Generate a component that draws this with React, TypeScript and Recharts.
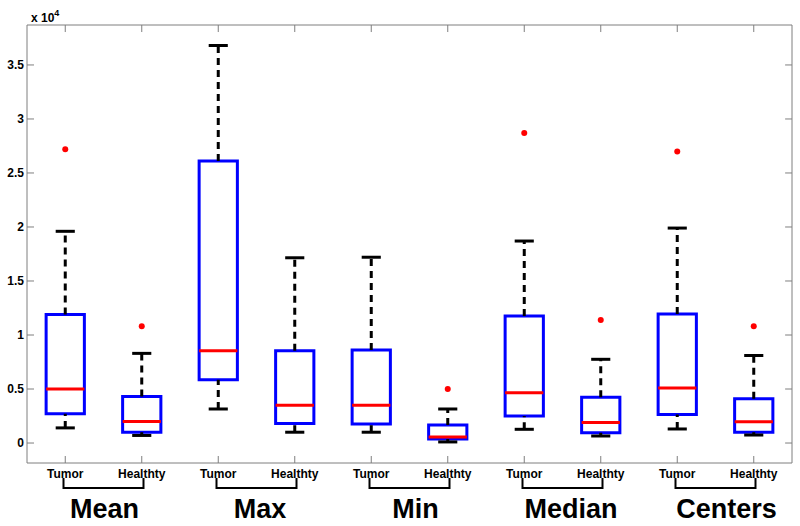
import {
  ComposedChart,
  XAxis,
  YAxis,
  ReferenceArea,
  ReferenceLine,
  Scatter,
} from "recharts";

// boxplot stats, raw values (axis shows x 10^4)
const categories = [
  "Tumor", "Healthty", "Tumor", "Healthty", "Tumor",
  "Healthty", "Tumor", "Healthty", "Tumor", "Healthty",
];
const groups = ["Mean", "Max", "Min", "Median", "Centers"];
const lowerWhisker = [1400, 700, 3150, 1000, 1000, 100, 1270, 650, 1300, 740];
const q1 = [2700, 1000, 5850, 1800, 1750, 370, 2500, 950, 2650, 1000];
const median = [5000, 2000, 8550, 3500, 3500, 560, 4650, 1900, 5100, 1970];
const q3 = [11900, 4300, 26100, 8550, 8600, 1670, 11750, 4230, 11950, 4100];
const upperWhisker = [19600, 8300, 36800, 17150, 17200, 3150, 18700, 7750, 19900, 8100];
const outliers = [27200, 10800, null, null, null, 5000, 28700, 11400, 27000, 10800];
const yTicks = [0, 5000, 10000, 15000, 20000, 25000, 30000, 35000];
const groupTicks = [1.5, 3.5, 5.5, 7.5, 9.5];

const positions = categories.map((_, i) => i + 1);
const outlierData = outliers
  .map((v, i) => (v == null ? null : { x: positions[i], y: v }))
  .filter((d) => d != null) as { x: number; y: number }[];

const FONT = "'Liberation Sans', Arial, Helvetica, sans-serif";
const AXIS = "#7f7f7f";
const HALF = 0.25;
const CAP = 0.125;
const yDomain = [-1850, 38700];
const xDomain = [0.5, 10.5];
// inward tick length on the top / right frame, in data units (~7px)
const TICK_X = 0.09;
const TICK_Y = 650;

function GroupTick({ x, y, payload }: any) {
  const idx = groupTicks.indexOf(payload.value);
  return (
    <g>
      <path
        d={`M${x - 40},${y - 5}V${y + 5}H${x + 40}V${y - 5}`}
        stroke="#000"
        strokeWidth={2}
        fill="none"
      />
      <text
        x={x + 1 + idx * 2.5}
        y={y + 35}
        textAnchor="middle"
        fontSize={27}
        fontWeight="bold"
        fontFamily={FONT}
        fill="#000"
      >
        {groups[idx]}
      </text>
    </g>
  );
}

function ExpLabel(props: any) {
  const vb = props.viewBox;
  return (
    <text x={vb.x + vb.width + 4} y={vb.y - 3} fontSize={12} fontWeight="bold" fontFamily={FONT} fill="#000">
      x 10
      <tspan dy={-6} fontSize={9}>4</tspan>
    </text>
  );
}

export default function App() {
  return (
    <div style={{ position: "absolute", left: 0, top: 0, background: "#fff" }}>
      <ComposedChart
        width={800}
        height={526}
        data={outlierData}
        margin={{ top: 24, right: 7, bottom: 0, left: 0 }}
      >
        <XAxis
          dataKey="x"
          type="number"
          domain={xDomain}
          allowDataOverflow
          ticks={positions}
          interval={0}
          height={20}
          tickSize={-7}
          tickMargin={13}
          stroke={AXIS}
          tick={{ fill: "#000", fontSize: 12, fontWeight: "bold", fontFamily: FONT }}
          tickFormatter={(v: number) => categories[v - 1]}
        />
        <XAxis
          xAxisId="group"
          dataKey="x"
          type="number"
          domain={xDomain}
          allowDataOverflow
          ticks={groupTicks}
          interval={0}
          height={43}
          axisLine={false}
          tickLine={false}
          tickSize={0}
          tickMargin={0}
          tick={<GroupTick />}
        />
        <XAxis
          xAxisId="top"
          dataKey="x"
          orientation="top"
          type="number"
          domain={xDomain}
          allowDataOverflow
          ticks={positions}
          height={1}
          tickLine={false}
          tick={false}
          stroke={AXIS}
        />
        <YAxis
          dataKey="y"
          type="number"
          domain={yDomain}
          allowDataOverflow
          ticks={yTicks}
          interval={0}
          width={27}
          tickSize={-7}
          tickMargin={10}
          stroke={AXIS}
          tick={{ fill: "#000", fontSize: 12, fontWeight: "bold", fontFamily: FONT }}
          tickFormatter={(v: number) => `${v / 10000}`}
          label={{ content: <ExpLabel /> }}
        />
        <YAxis
          yAxisId="right"
          dataKey="y"
          orientation="right"
          type="number"
          domain={yDomain}
          allowDataOverflow
          ticks={yTicks}
          width={1}
          tickLine={false}
          tick={false}
          stroke={AXIS}
        />

        {/* inward ticks on top and right edges of the frame */}
        {positions.map((p) => (
          <ReferenceLine
            key={`tt${p}`}
            segment={[{ x: p, y: yDomain[1] }, { x: p, y: yDomain[1] - TICK_Y }]}
            stroke={AXIS}
            strokeWidth={1}
            ifOverflow="visible"
          />
        ))}
        {yTicks.map((t) => (
          <ReferenceLine
            key={`rt${t}`}
            segment={[{ x: xDomain[1] - TICK_X, y: t }, { x: xDomain[1], y: t }]}
            stroke={AXIS}
            strokeWidth={1}
            ifOverflow="visible"
          />
        ))}

        {/* whiskers */}
        {positions.map((p, i) => (
          <ReferenceLine
            key={`wu${i}`}
            segment={[{ x: p, y: q3[i] }, { x: p, y: upperWhisker[i] }]}
            stroke="#000"
            strokeWidth={3}
            strokeDasharray="7 5"
          />
        ))}
        {positions.map((p, i) => (
          <ReferenceLine
            key={`wl${i}`}
            segment={[{ x: p, y: lowerWhisker[i] }, { x: p, y: q1[i] }]}
            stroke="#000"
            strokeWidth={3}
            strokeDasharray="7 5"
          />
        ))}
        {positions.map((p, i) => (
          <ReferenceLine
            key={`cu${i}`}
            segment={[{ x: p - CAP, y: upperWhisker[i] }, { x: p + CAP, y: upperWhisker[i] }]}
            stroke="#000"
            strokeWidth={3}
          />
        ))}
        {positions.map((p, i) => (
          <ReferenceLine
            key={`cl${i}`}
            segment={[{ x: p - CAP, y: lowerWhisker[i] }, { x: p + CAP, y: lowerWhisker[i] }]}
            stroke="#000"
            strokeWidth={3}
          />
        ))}

        {/* boxes */}
        {positions.map((p, i) => (
          <ReferenceArea
            key={`b${i}`}
            x1={p - HALF}
            x2={p + HALF}
            y1={q1[i]}
            y2={q3[i]}
            fill="none"
            fillOpacity={0}
            stroke="#0000ff"
            strokeWidth={3}
          />
        ))}

        {/* medians */}
        {positions.map((p, i) => (
          <ReferenceLine
            key={`m${i}`}
            segment={[{ x: p - HALF, y: median[i] }, { x: p + HALF, y: median[i] }]}
            stroke="#ff0000"
            strokeWidth={3}
          />
        ))}

        <Scatter
          data={outlierData}
          dataKey="y"
          isAnimationActive={false}
          shape={(props: any) => <circle cx={props.cx} cy={props.cy} r={3} fill="#ff0000" />}
        />
      </ComposedChart>
    </div>
  );
}
